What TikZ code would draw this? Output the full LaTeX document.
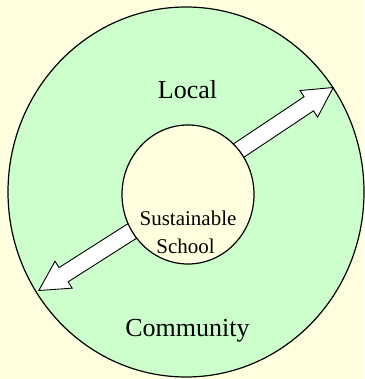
\documentclass[tikz,border=0pt]{standalone}
\usepackage{fontspec}
\setmainfont{Liberation Serif}
\usepackage{tikz}
\usetikzlibrary{shapes.arrows}

\definecolor{paper}{RGB}{255,255,224}
\definecolor{meadow}{RGB}{204,255,204}

\tikzset{
  blockarrow/.style={single arrow,draw,fill=white,line width=0.9pt,
    minimum height=125,single arrow head extend=7.5,
    single arrow tip angle=57,inner xsep=0pt,inner ysep=8pt,anchor=tip},
  bigword/.style={font=\fontsize{26}{26}\selectfont,anchor=base,inner sep=0pt},
  smallword/.style={font=\fontsize{21}{21}\selectfont,anchor=base,inner sep=0pt}
}

\begin{document}
\begin{tikzpicture}[x=1pt,y=-1pt]
    \fill[paper] (0,0) rectangle (364,379);
    \useasboundingbox (0,0) rectangle (364,379);

    \coordinate (mid) at (188,194.5);
    \coordinate (out) at (186,192);
    \coordinate (ne) at (334,87);
    \coordinate (sw) at (38,291);

    \draw[line width=1.2pt,fill=meadow] (out) ellipse [x radius=178,y radius=185];

    \node (up) [blockarrow,rotate=33.7] at (ne) {};
    \node (down) [blockarrow,rotate=212.5] at (sw) {};

    \draw[line width=1.2pt,fill=paper] (mid) ellipse [x radius=66,y radius=69.5];

    \node (local) [bigword] at (187.5,99) {Local};
    \node (comm) [bigword] at (187.5,336) {Community};
    \node (sust) [smallword] at (188,225) {Sustainable};
    \node (school) [smallword] at (185.5,253) {School};
\end{tikzpicture}
\end{document}
